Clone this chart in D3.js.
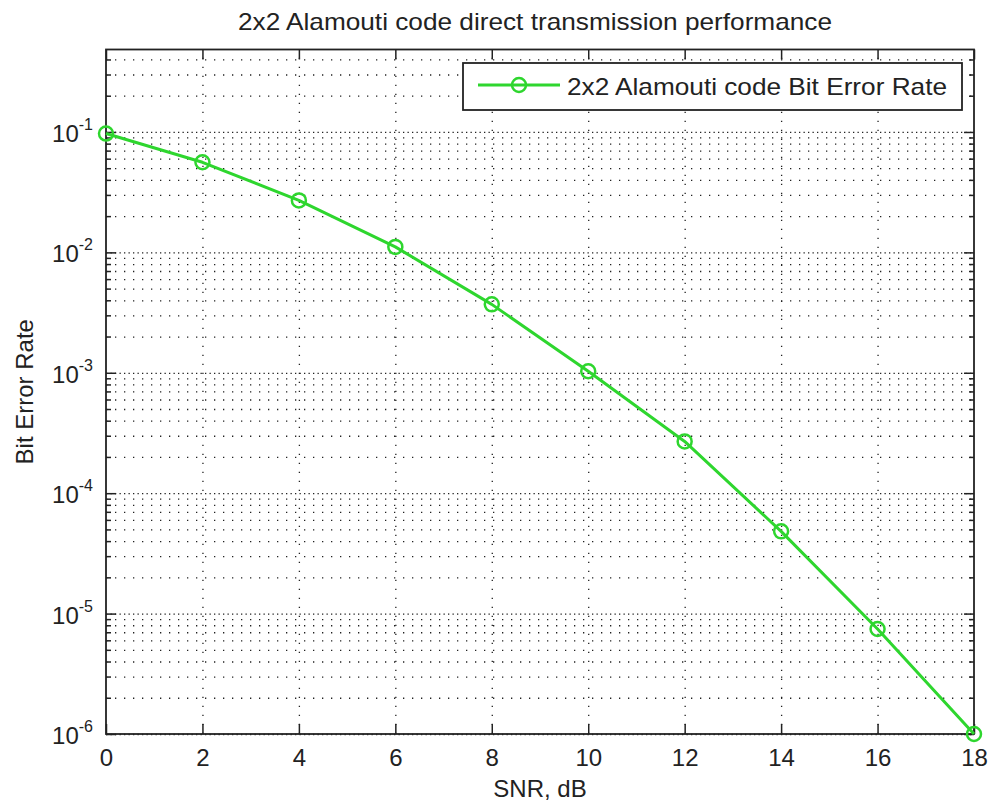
<!DOCTYPE html>
<html>
<head>
<meta charset="utf-8">
<script src="https://cdn.jsdelivr.net/npm/d3@7"></script>
<style>
  body { margin: 0; background: #fff; }
  text { font-family: "Liberation Sans", Arial, sans-serif; fill: #222; }
  .grid line { stroke: #222; stroke-width: 1.3; }
  .grid path { display: none; }
  .axis path { display: none; }
  .axis line { stroke: #222; stroke-width: 1.5; }
</style>
</head>
<body>
<div id="chart-area"></div>
<script>
const snr = [0, 2, 4, 6, 8, 10, 12, 14, 16, 18];
const ber = [0.097, 0.056, 0.027, 0.0111, 0.0037, 0.00103, 0.000269, 0.0000482, 0.00000745, 0.000001];
const xTicks = [0, 2, 4, 6, 8, 10, 12, 14, 16, 18];
const yDecades = [1e-6, 1e-5, 1e-4, 1e-3, 1e-2, 1e-1];
const titleText = '2x2 Alamouti code direct transmission performance';
const legendText = '2x2 Alamouti code Bit Error Rate';

const drawChart = () => {
  const chartSize = { width: 990, height: 808 };
  const margin = { left: 106, right: 16, top: 49.5, bottom: 74 };
  const width = chartSize.width - margin.left - margin.right;
  const height = chartSize.height - margin.top - margin.bottom;
  const green = '#2ed62e';

  const svg = d3.select('#chart-area').append('svg')
    .attr('width', chartSize.width)
    .attr('height', chartSize.height);

  const g = svg.append('g')
    .attr('transform', `translate(${margin.left},${margin.top})`);

  const x = d3.scaleLinear().domain([0, 18]).range([0, width]);
  const y = d3.scaleLog().domain([1e-6, 0.484]).range([height, 0]);

  const allTicks = y.ticks(30).filter(v => v >= 1e-6 && v <= 0.484);
  const isDecade = v => Math.abs(Math.log10(v) - Math.round(Math.log10(v))) < 1e-9;
  const minorTicks = allTicks.filter(v => !isDecade(v));

  // grid
  g.append('g').attr('class', 'grid')
    .call(d3.axisLeft(y).tickValues(minorTicks).tickSize(-width).tickFormat(''))
    .selectAll('line').attr('stroke-dasharray', '1.3,7.7');
  g.append('g').attr('class', 'grid')
    .call(d3.axisLeft(y).tickValues(yDecades).tickSize(-width).tickFormat(''))
    .selectAll('line').attr('stroke-dasharray', '1.3,3.2');
  g.append('g').attr('class', 'grid')
    .attr('transform', `translate(0,${height})`)
    .call(d3.axisBottom(x).tickValues(xTicks.slice(1, -1)).tickSize(-height).tickFormat(''))
    .selectAll('line').attr('stroke-dasharray', '1.3,7.7');

  // axes with inward ticks
  const xAxis = g.append('g').attr('class', 'axis')
    .attr('transform', `translate(0,${height})`)
    .call(d3.axisBottom(x).tickValues(xTicks).tickSize(-10).tickPadding(15));
  xAxis.selectAll('text').attr('font-size', 24).style('font-family', '"Liberation Sans", Arial, sans-serif');

  g.append('g').attr('class', 'axis')
    .call(d3.axisTop(x).tickValues(xTicks).tickSize(-10).tickFormat(''));

  const yAxis = g.append('g').attr('class', 'axis')
    .call(d3.axisLeft(y).tickValues(yDecades).tickSize(-10).tickPadding(13)
      .tickFormat(d => Math.round(Math.log10(d))));
  yAxis.selectAll('text').each(function () {
    const t = d3.select(this);
    const e = t.text();
    t.text(null).attr('dy', null).attr('y', 9.5)
      .style('font-family', '"Liberation Sans", Arial, sans-serif');
    t.append('tspan').attr('font-size', 24).text('10');
    t.append('tspan').attr('font-size', 16).attr('dy', -12).text(e);
  });
  g.append('g').attr('class', 'axis')
    .call(d3.axisLeft(y).tickValues(minorTicks).tickSize(-5).tickFormat(''));
  g.append('g').attr('class', 'axis')
    .attr('transform', `translate(${width},0)`)
    .call(d3.axisRight(y).tickValues(yDecades).tickSize(-10).tickFormat(''));
  g.append('g').attr('class', 'axis')
    .attr('transform', `translate(${width},0)`)
    .call(d3.axisRight(y).tickValues(minorTicks).tickSize(-5).tickFormat(''));

  // frame
  g.append('rect')
    .attr('width', width).attr('height', height)
    .attr('fill', 'none').attr('stroke', '#222').attr('stroke-width', 1.8);

  // series
  const pts = snr.map((s, i) => ({ s, b: ber[i] }));
  const line = d3.line().x(d => x(d.s)).y(d => y(d.b));
  g.append('path').datum(pts)
    .attr('d', line)
    .attr('fill', 'none')
    .attr('stroke', green)
    .attr('stroke-width', 3)
    .attr('stroke-linejoin', 'round');
  g.selectAll('circle.pt').data(pts).enter().append('circle')
    .attr('class', 'pt')
    .attr('cx', d => x(d.s))
    .attr('cy', d => y(d.b))
    .attr('r', 7)
    .attr('fill', 'none')
    .attr('stroke', green)
    .attr('stroke-width', 2.5);

  // legend
  const lg = svg.append('g').attr('transform', 'translate(463,63)');
  lg.append('rect')
    .attr('width', 499).attr('height', 47)
    .attr('fill', '#fff').attr('stroke', '#222').attr('stroke-width', 1.8);
  lg.append('line')
    .attr('x1', 15).attr('x2', 97).attr('y1', 22).attr('y2', 22)
    .attr('stroke', green).attr('stroke-width', 3);
  lg.append('circle')
    .attr('cx', 56).attr('cy', 22).attr('r', 7)
    .attr('fill', 'none').attr('stroke', green).attr('stroke-width', 2.5);
  lg.append('text')
    .attr('x', 104).attr('y', 32)
    .attr('font-size', 24)
    .attr('textLength', 380)
    .attr('lengthAdjust', 'spacingAndGlyphs')
    .text(legendText);

  // title and labels
  svg.append('text')
    .attr('x', 238).attr('y', 30)
    .attr('font-size', 24)
    .attr('textLength', 594)
    .attr('lengthAdjust', 'spacingAndGlyphs')
    .text(titleText);

  svg.append('text')
    .attr('x', margin.left + width / 2).attr('y', 797)
    .attr('text-anchor', 'middle')
    .attr('font-size', 24)
    .text('SNR, dB');

  svg.append('text')
    .attr('transform', `translate(33,${margin.top + height / 2}) rotate(-90)`)
    .attr('text-anchor', 'middle')
    .attr('font-size', 24)
    .text('Bit Error Rate');
}

window.onload = drawChart;
</script>
</body>
</html>
